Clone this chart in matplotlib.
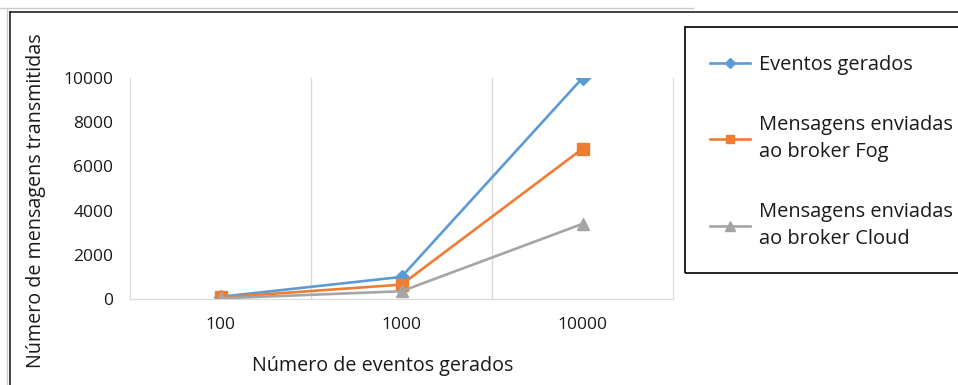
import matplotlib.pyplot as plt
from matplotlib.lines import Line2D
from matplotlib.patches import Rectangle

plt.rcParams['font.family'] = ['Open Sans', 'DejaVu Sans']

# dados
categorias = ['100', '1000', '10000']
eventos_gerados = [100, 1000, 10000]
broker_fog = [70, 650, 6800]
broker_cloud = [30, 350, 3400]
y_ticks = [0, 2000, 4000, 6000, 8000, 10000]

W, H = 958, 385
fig = plt.figure(figsize=(W / 100, H / 100), dpi=100)
ax = fig.add_axes([130 / W, (H - 299) / H, 543 / W, 221 / H])

x = list(range(len(categorias)))
l1, = ax.plot(x, eventos_gerados, color='#5B9BD5', lw=1.9, marker='D', ms=7)
l2, = ax.plot(x, broker_fog, color='#ED7D31', lw=1.9, marker='s', ms=8)
l3, = ax.plot(x, broker_cloud, color='#A5A5A5', lw=1.9, marker='^', ms=9)

ax.set_xlim(-0.5, 2.5)
ax.set_ylim(0, 10000)
ax.set_xticks(x, categorias)
ax.set_yticks(y_ticks)
ax.tick_params(length=0, labelsize=12.5, colors='#1a1a1a')
ax.tick_params(axis='y', pad=12)
ax.tick_params(axis='x', pad=13)

# linhas de grade entre categorias
for b in [0.5, 1.5]:
    ax.axvline(b, color='#d9d9d9', lw=1, zorder=0)
for s in ['left', 'right', 'bottom']:
    ax.spines[s].set_color('#d9d9d9')
ax.spines['top'].set_visible(False)

ax.set_xlabel('Número de eventos gerados', fontsize=14.2, color='#1a1a1a', va='center')
ax.xaxis.set_label_coords((383 - 130) / 543, (299 - 366) / 221)
ax.set_ylabel('Número de mensagens transmitidas', fontsize=14.2, color='#1a1a1a', va='center')
ax.yaxis.set_label_coords((36 - 130) / 543, (299 - 201) / 221)

# legenda com caixa preta que sai pela direita
fig.add_artist(Rectangle((685 / W, (H - 273) / H), 300 / W, 246 / H,
                         transform=fig.transFigure, fill=False, ec='#111111', lw=1.3))
leg = fig.legend([l1, l2, l3],
                 ['Eventos gerados', 'Mensagens enviadas\nao broker Fog',
                  'Mensagens enviadas\nao broker Cloud'],
                 loc='upper left', bbox_to_anchor=(710 / W, 1 - 55 / H),
                 frameon=False, fontsize=14.4, handlelength=2.0,
                 handletextpad=0.45, labelspacing=2.0, markerscale=0.8,
                 borderaxespad=0, borderpad=0)
for t in leg.get_texts():
    t.set_color('#1a1a1a')
    t.set_linespacing(1.45)

# moldura externa
fig.add_artist(Line2D([0, 693 / W], [1 - 8 / H, 1 - 8 / H], color='#cccccc', lw=1))
fig.add_artist(Line2D([7 / W, 7 / W], [0, 1 - 8 / H], color='#cccccc', lw=1))
fig.add_artist(Line2D([9.5 / W, 1], [1 - 12 / H, 1 - 12 / H], color='#222222', lw=1.2))
fig.add_artist(Line2D([9.5 / W, 9.5 / W], [0, 1 - 12 / H], color='#222222', lw=1.2))

fig.savefig('out.png', dpi=100)
